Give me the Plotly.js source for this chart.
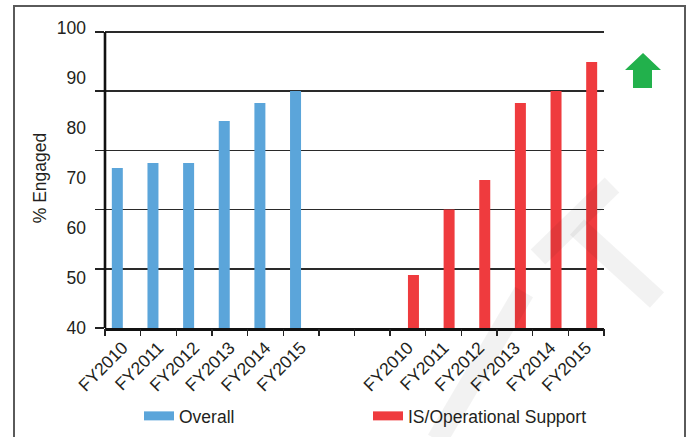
<!DOCTYPE html>
<html>
<head>
<meta charset="utf-8">
<script src="https://cdn.plot.ly/plotly-3.0.1.min.js"></script>
<style>
  html, body { margin: 0; padding: 0; background: #ffffff; }
  #chart { width: 687px; height: 437px; }
</style>
</head>
<body>
<div id="chart"></div>
<script>
// ---- data ----
const years = ["FY2010", "FY2011", "FY2012", "FY2013", "FY2014", "FY2015"];
const overallValues = [72.0, 73.0, 73.0, 81.4, 85.0, 87.4];
const supportValues = [50.6, 63.7, 69.6, 85.0, 87.4, 93.2];
const seriesNames = ["Overall", "IS/Operational Support"];
const yTickValues = [40, 50, 60, 70, 80, 90, 100];
const yAxisTitle = "% Engaged";

// ---- layout helpers ----
const gapSlots = 2;
const nSlots = years.length * 2 + gapSlots;
const overallX = years.map((_, i) => i);
const supportX = years.map((_, i) => i + years.length + gapSlots);
const boundaries = Array.from({length: nSlots + 1}, (_, i) => i - 0.5);

const FONT = '"Liberation Sans", Arial, sans-serif';
const FS = 17.5;
const TXT = '#231f20';
const BLUE = '#5ba5da';
const RED = '#ef3b3e';

const traces = [
  { type: 'bar', x: overallX, y: overallValues, name: seriesNames[0], offsetgroup: 'a',
    marker: { color: BLUE }, showlegend: false, hoverinfo: 'y' },
  { type: 'bar', x: supportX, y: supportValues, name: seriesNames[1], offsetgroup: 'b',
    marker: { color: RED }, showlegend: false, hoverinfo: 'y' },
  // legend entries
  { type: 'scatter', mode: 'lines', x: [null], y: [null], name: seriesNames[0],
    line: { color: BLUE, width: 9 }, legend: 'legend' },
  { type: 'scatter', mode: 'lines', x: [null], y: [null], name: seriesNames[1],
    line: { color: RED, width: 9 }, legend: 'legend2' },
  // carrier for the grid / boundary-tick axes
  { type: 'scatter', mode: 'lines', x: [], y: [], xaxis: 'x2', yaxis: 'y2',
    showlegend: false, hoverinfo: 'skip' }
];

// pixel -> paper helpers for decorative shapes (plot: l=105, w=499, t=28, h=300)
const PL = 105, PW = 499, PB = 328, PH = 300;
const px = v => (v - PL) / PW;
const py = v => (PB - v) / PH;

const arrowPts = [[643,53],[625,70],[633,70],[633,88],[652,88],[652,70],[661,70]];
const arrowPath = 'M ' + arrowPts.map(p => px(p[0]).toFixed(4) + ',' + py(p[1]).toFixed(4)).join(' L ') + ' Z';

const wm = 'rgba(0,0,0,0.05)';
const wmLines = [
  [[437,440],[524,292]],
  [[538,257],[612,185]],
  [[577,227],[657,300]]
];

const shapes = [
  // frame
  { type: 'rect', xref: 'paper', yref: 'paper', x0: px(14), x1: px(685), y0: py(450), y1: py(6),
    line: { color: '#5a5a5a', width: 2 }, fillcolor: 'rgba(0,0,0,0)', layer: 'below' },
  // left axis line (between bottom and top gridline)
  { type: 'line', xref: 'paper', yref: 'y2', x0: 0, x1: 0, y0: 0, y1: 5,
    line: { color: '#111', width: 2.6 } },
  // green arrow
  { type: 'path', xref: 'paper', yref: 'paper', path: arrowPath,
    fillcolor: '#22b14c', line: { width: 0 } }
].concat(wmLines.map(l => ({
  type: 'line', xref: 'paper', yref: 'paper',
  x0: px(l[0][0]), y0: py(l[0][1]), x1: px(l[1][0]), y1: py(l[1][1]),
  line: { color: wm, width: 21 }, layer: 'above'
})));

const legendBase = {
  orientation: 'h', xref: 'container', yref: 'container',
  xanchor: 'left', y: 1 - 416 / 437, yanchor: 'middle',
  font: { family: FONT, size: FS, color: TXT },
  bgcolor: 'rgba(0,0,0,0)', borderwidth: 0
};

const layout = {
  width: 687, height: 437,
  margin: { l: 105, r: 83, t: 28, b: 109, pad: 0 },
  paper_bgcolor: '#ffffff', plot_bgcolor: 'rgba(0,0,0,0)',
  font: { family: FONT, size: FS, color: TXT },
  barmode: 'group', bargap: 0.383, bargroupgap: 0,
  showlegend: true,
  legend: Object.assign({}, legendBase, { x: 139 / 687 }),
  legend2: Object.assign({}, legendBase, { x: 368 / 687 }),
  xaxis: {
    type: 'linear', range: [-0.5, nSlots - 0.5], fixedrange: true,
    tickmode: 'array', tickvals: overallX.concat(supportX), ticktext: years.concat(years),
    tickangle: -45, ticks: '', showgrid: false, zeroline: false,
    showline: true, linecolor: '#111', linewidth: 2.6,
    tickfont: { family: FONT, size: FS, color: TXT }
  },
  xaxis2: {
    type: 'linear', overlaying: 'x', anchor: 'y', side: 'bottom',
    range: [-0.5, nSlots - 0.5], fixedrange: true,
    tickmode: 'array', tickvals: boundaries, ticks: 'outside', ticklen: 7,
    tickwidth: 1.4, tickcolor: '#222', showticklabels: false,
    showgrid: false, zeroline: false, showline: false
  },
  yaxis: {
    range: [40, 100], fixedrange: true,
    tickmode: 'array', tickvals: yTickValues, ticktext: yTickValues.map(String),
    ticks: '', ticklabelstandoff: 18, showgrid: false, zeroline: false, showline: false,
    tickfont: { family: FONT, size: FS, color: TXT },
    title: { text: yAxisTitle, font: { family: FONT, size: FS, color: TXT }, standoff: 5 }
  },
  yaxis2: {
    overlaying: 'y', anchor: 'x', side: 'left',
    range: [0, 5 * 300 / 296], fixedrange: true,
    tickmode: 'array', tickvals: [0, 1, 2, 3, 4, 5], ticks: 'outside', ticklen: 9,
    tickwidth: 1.6, tickcolor: '#222', showticklabels: false,
    showgrid: true, gridcolor: '#2a2a2a', gridwidth: 1.6,
    zeroline: false, showline: false
  },
  shapes: shapes
};

Plotly.newPlot('chart', traces, layout, { displayModeBar: false, staticPlot: true });
</script>
</body>
</html>
